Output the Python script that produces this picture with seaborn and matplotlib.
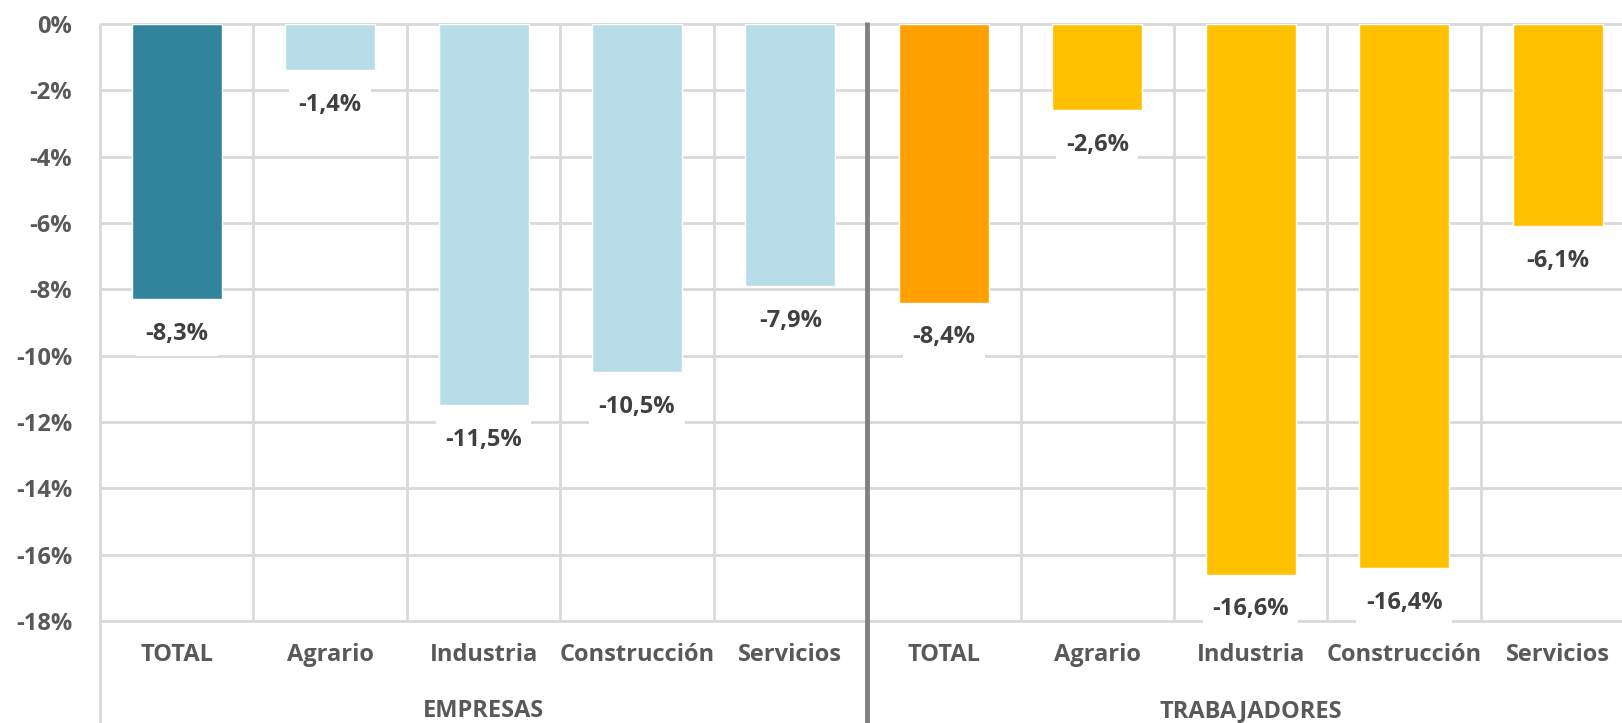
import pandas as pd
import numpy as np
import matplotlib
matplotlib.use("Agg")
import matplotlib.pyplot as plt
import matplotlib.transforms as mtransforms
import seaborn as sns

# datos (variacion %)
grupos = ["EMPRESAS", "TRABAJADORES"]
sectores = ["TOTAL", "Agrario", "Industria", "Construcción", "Servicios"]
empresas = [-8.3, -1.4, -11.5, -10.5, -7.9]
trabajadores = [-8.4, -2.6, -16.6, -16.4, -6.1]
yTicks = [0, -2, -4, -6, -8, -10, -12, -14, -16, -18]

coloresEmpresas = ["#31849B", "#B7DEE8", "#B7DEE8", "#B7DEE8", "#B7DEE8"]
coloresTrabajadores = ["#FFA000", "#FFC000", "#FFC000", "#FFC000", "#FFC000"]

rows = []
for grupo, valores in zip(grupos, [empresas, trabajadores]):
    for sector, v in zip(sectores, valores):
        rows.append((grupo, sector, f"{grupo}-{sector}", v))
df = pd.DataFrame(rows, columns=["grupo", "sector", "clave", "valor"])

sns.set_style("white")
plt.rcParams["font.family"] = ["Open Sans", "DejaVu Sans"]
plt.rcParams["font.weight"] = "bold"

gridColor = "#D9D9D9"
textColor = "#595959"
labelColor = "#404040"
fs = 17

fig = plt.figure(figsize=(16.22, 7.23), dpi=100)
ax = fig.add_axes([100 / 1622, 102 / 723, 1522 / 1622, 597 / 723])

palette = dict(zip(df["clave"], coloresEmpresas + coloresTrabajadores))
sns.barplot(data=df, x="clave", y="valor", hue="clave", palette=palette,
            width=0.587, legend=False, saturation=1, ax=ax, zorder=3)

ax.set_ylim(-18, 0)
ax.set_xlim(-0.5, 9.42)
ax.set_yticks(yTicks)
ax.set_yticklabels([f"{t}%" for t in yTicks])
ax.set_xticks(range(len(df)))
ax.set_xticklabels(df["sector"])
ax.set_xlabel("")
ax.set_ylabel("")
ax.tick_params(axis="y", length=0, pad=20, labelsize=fs, labelcolor=textColor)
ax.tick_params(axis="x", length=0, pad=16, labelsize=fs, labelcolor=textColor)
for lbl in ax.get_xticklabels() + ax.get_yticklabels():
    lbl.set_fontweight("bold")

for s in ax.spines.values():
    s.set_visible(False)

# rejilla horizontal y separadores de categoria
ax.hlines(yTicks, -0.5, 9.5, color=gridColor, lw=2, zorder=1, clip_on=False)
for i in range(9):
    if i == 4:
        continue
    ax.vlines(i + 0.5, -18, 0, color=gridColor, lw=2, zorder=1)

# lineas que bajan hasta el borde (nivel de grupo)
ax.vlines(-0.5, -21.2, 0, color=gridColor, lw=2, zorder=1, clip_on=False)
ax.vlines(4.5, -21.2, 0.05, color="#808080", lw=3.5, zorder=4, clip_on=False)

# etiquetas de datos
for i, v in enumerate(df["valor"]):
    ax.text(i, v - 1.05, f"{v:.1f}%".replace(".", ","), ha="center", va="center",
            fontsize=fs, fontweight="bold", color=labelColor, zorder=5,
            bbox=dict(boxstyle="square,pad=0.4", fc="white", ec="none"))

# etiquetas de grupo
trans = mtransforms.blended_transform_factory(ax.transData, ax.transAxes)
for grupo, xc in zip(grupos, [2, 7]):
    ax.text(xc, -0.151, grupo, transform=trans, ha="center", va="center",
            fontsize=fs, fontweight="bold", color=textColor, clip_on=False)

fig.savefig("out.png", dpi=100)
